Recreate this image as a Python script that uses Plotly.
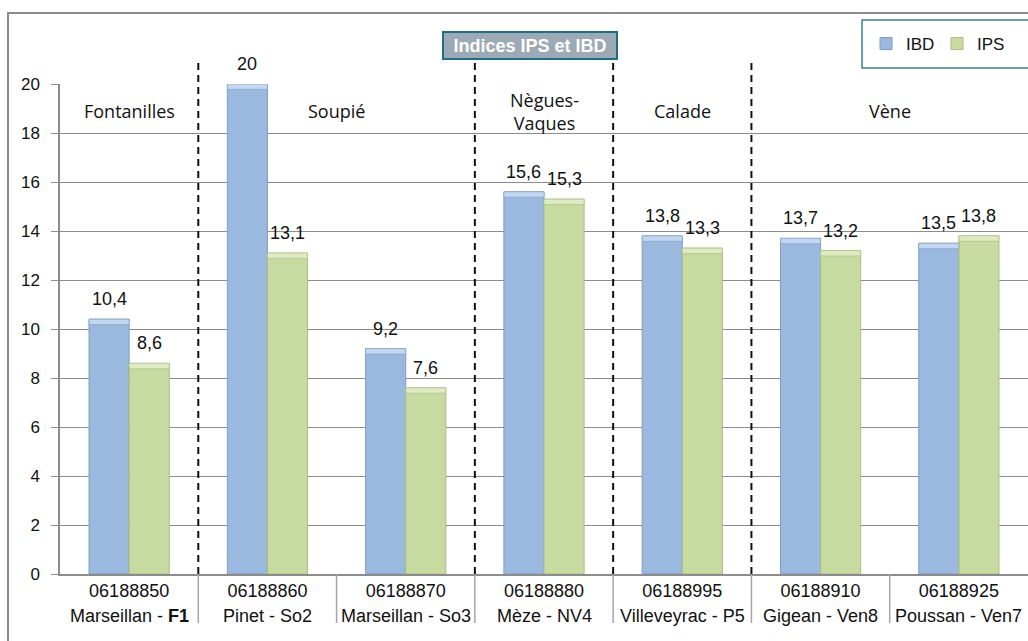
import plotly.graph_objects as go

# ---- data -------------------------------------------------------------
station_codes = ["06188850", "06188860", "06188870", "06188880",
                 "06188995", "06188910", "06188925"]
communes = ["Marseillan", "Pinet", "Marseillan", "Mèze",
            "Villeveyrac", "Gigean", "Poussan"]
site_codes = ["F1", "So2", "So3", "NV4", "P5", "Ven8", "Ven7"]
bold_codes = ["F1"]

ibd = [10.4, 20, 9.2, 15.6, 13.8, 13.7, 13.5]
ips = [8.6, 13.1, 7.6, 15.3, 13.3, 13.2, 13.8]

# watercourse groups: (label, number of stations)
rivers = [("Fontanilles", 1), ("Soupié", 2), ("Nègues-<br>Vaques", 1),
          ("Calade", 1), ("Vène", 2)]

y_ticks = list(range(0, 21, 2))

# ---- styling ------------------------------------------------------------
W, H = 1028, 641
ML, MR, MT, MB = 60, 0, 84, 67
PW, PH = W - ML - MR, H - MT - MB
BARGAP = 0.42
ARIAL = "Arial"

BLUE, BLUE_EDGE, BLUE_HI = "#9BB8DF", "#7F9CC6", "#C4D7F0"
GREEN, GREEN_EDGE, GREEN_HI = "#C7DA9F", "#A9BD80", "#DFEAC4"


def px_x(px):
    """horizontal pixel -> paper coordinate"""
    return (px - ML) / PW


def px_y(py):
    """vertical pixel -> paper coordinate"""
    return (H - MB - py) / PH


def fmt(v):
    return f"{v:g}".replace(".", ",")


x = list(range(len(station_codes)))

fig = go.Figure()

series = [("IBD", ibd, BLUE, BLUE_EDGE, BLUE_HI),
          ("IPS", ips, GREEN, GREEN_EDGE, GREEN_HI)]

for name, vals, fill, edge, hi in series:
    fig.add_trace(go.Bar(
        x=x, y=vals, name=name, offsetgroup=name,
        marker=dict(color=fill, line=dict(color=edge, width=1)),
        hoverinfo="skip",
    ))
for name, vals, fill, edge, hi in series:
    # light bevel strip along the top of each bar
    strip = 0.22
    fig.add_trace(go.Bar(
        x=x, y=[strip] * len(vals), base=[v - strip for v in vals],
        offsetgroup=name, showlegend=False,
        marker=dict(color=hi, line=dict(color=edge, width=0.6)),
        hoverinfo="skip",
    ))

# value labels above the bars
bar_w = (1 - BARGAP) / 2
annotations = []
for k, (name, vals, *_rest) in enumerate(series):
    off = (k - 0.5) * bar_w
    for i, v in enumerate(vals):
        annotations.append(dict(
            x=i + off, y=v, xref="x", yref="y", text=fmt(v),
            showarrow=False, yanchor="bottom", yshift=8,
            font=dict(family=ARIAL, size=18, color="#111111"),
        ))

# second line of the category labels: commune - site
for i, (c, s) in enumerate(zip(communes, site_codes)):
    code = f"<b>{s}</b>" if s in bold_codes else s
    annotations.append(dict(
        x=i, y=px_y(616), xref="x", yref="paper", text=f"{c} - {code}",
        showarrow=False, yanchor="middle",
        font=dict(family=ARIAL, size=18, color="#111111"),
    ))

# watercourse names and dashed separators between them
shapes = []
start = 0
for k, (label, n) in enumerate(rivers):
    centre = start + (n - 1) / 2
    annotations.append(dict(
        x=centre, y=px_y(111), xref="x", yref="paper", text=label,
        showarrow=False, yanchor="middle",
        font=dict(family="Open Sans", size=18, color="#111111"),
    ))
    start += n
    if k < len(rivers) - 1:
        shapes.append(dict(
            type="line", xref="x", yref="paper",
            x0=start - 0.5, x1=start - 0.5, y0=0, y1=px_y(63),
            line=dict(color="#111111", width=2, dash="7px,5px"),
        ))

# category dividers under the axis
for b in range(1, len(station_codes)):
    shapes.append(dict(
        type="line", xref="x", yref="paper",
        x0=b - 0.5, x1=b - 0.5, y0=0, y1=px_y(623),
        line=dict(color="#A6A6A6", width=1.5),
    ))

# chart frame and legend frame
shapes.append(dict(
    type="rect", xref="paper", yref="paper", layer="below",
    x0=px_x(8), x1=px_x(W + 20), y0=px_y(H + 20), y1=px_y(13),
    line=dict(color="#8C8C8C", width=2), fillcolor="rgba(0,0,0,0)",
))
shapes.append(dict(
    type="rect", xref="paper", yref="paper",
    x0=px_x(862), x1=px_x(W + 20), y0=px_y(68), y1=px_y(20),
    line=dict(color="#3B8196", width=1.5), fillcolor="rgba(0,0,0,0)",
))

# title box
annotations.append(dict(
    x=px_x(530), y=px_y(45.5), xref="paper", yref="paper",
    text="<b>Indices IPS et IBD</b>", showarrow=False,
    xanchor="center", yanchor="middle", width=170, height=23,
    bgcolor="#9CAAB5", bordercolor="#1E6F86", borderwidth=2, borderpad=1,
    font=dict(family=ARIAL, size=18, color="#FFFFFF"),
))

fig.update_layout(
    width=W, height=H,
    margin=dict(l=ML, r=MR, t=MT, b=MB),
    paper_bgcolor="white", plot_bgcolor="white",
    barmode="group", bargap=BARGAP, bargroupgap=0,
    showlegend=True,
    legend=dict(
        orientation="h", x=px_x(866), y=px_y(44), xanchor="left",
        yanchor="middle", bgcolor="rgba(0,0,0,0)", entrywidth=26,
        font=dict(family=ARIAL, size=17, color="#111111"),
        itemclick=False, itemdoubleclick=False,
    ),
    xaxis=dict(
        type="linear", range=[-0.5, len(station_codes) - 0.5],
        tickmode="array", tickvals=x, ticktext=station_codes,
        showgrid=False, zeroline=False, showline=True,
        linecolor="#8C8C8C", linewidth=1.5, ticks="",
        tickfont=dict(family=ARIAL, size=18, color="#111111"),
    ),
    yaxis=dict(
        range=[0, 20], tickmode="array", tickvals=y_ticks,
        showgrid=True, gridcolor="#8C8C8C", gridwidth=1,
        zeroline=False, showline=True, linecolor="#8C8C8C", linewidth=1.5,
        ticks="outside", ticklen=7, tickcolor="#8C8C8C",
        ticklabelstandoff=8,
        tickfont=dict(family=ARIAL, size=17, color="#111111"),
    ),
    annotations=annotations,
    shapes=shapes,
    font=dict(family=ARIAL),
)

fig.write_html("out.html")
